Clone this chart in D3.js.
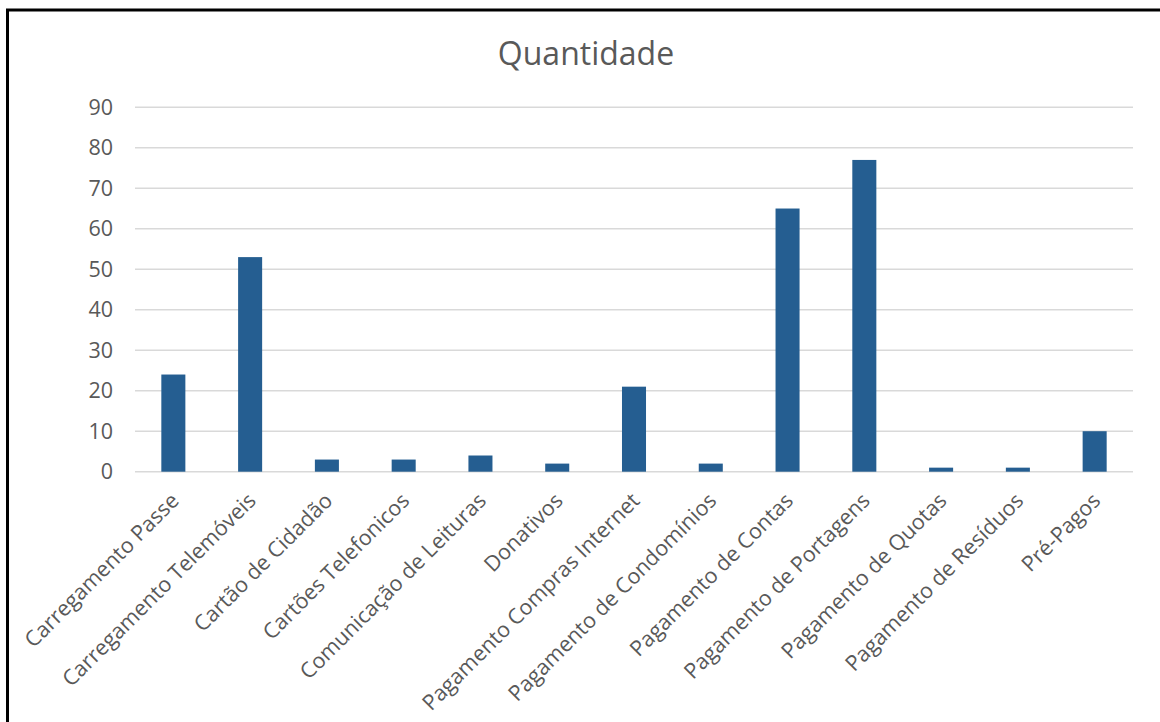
<!DOCTYPE html>
<meta charset="utf-8">
<style>
body { margin: 0; background: #fff; }
svg text { font-family: "Open Sans", Arial, sans-serif; fill: #595959; }
.grid line { stroke: #d9d9d9; stroke-width: 1.4px; }
</style>
<body>
<script src="https://d3js.org/d3.v7.min.js"></script>
<script>
// chart data
var categories = ["Carregamento Passe", "Carregamento Telemóveis", "Cartão de Cidadão",
  "Cartões Telefonicos", "Comunicação de Leituras", "Donativos", "Pagamento Compras Internet",
  "Pagamento de Condomínios", "Pagamento de Contas", "Pagamento de Portagens",
  "Pagamento de Quotas", "Pagamento de Resíduos", "Pré-Pagos"];
var values = [24, 53, 3, 3, 4, 2, 21, 2, 65, 77, 1, 1, 10];
var yTicks = [0, 10, 20, 30, 40, 50, 60, 70, 80, 90];
var title = "Quantidade";

var width = 1160, height = 722;
var plot = {left: 135, right: 1133, top: 107.3, bottom: 471.7};

var svg = d3.select("body").append("svg")
    .attr("width", width)
    .attr("height", height);

// border (only top and left visible in the picture)
svg.append("path")
    .attr("d", "M7.5," + height + "V10H" + width)
    .attr("fill", "none")
    .attr("stroke", "#000")
    .attr("stroke-width", 3);

var x = d3.scaleBand().domain(categories).range([plot.left, plot.right]).paddingInner(0.687).paddingOuter(0.343);
var y = d3.scaleLinear().domain([0, 90]).range([plot.bottom, plot.top]);

// gridlines + y labels
var grid = svg.append("g").attr("class", "grid");
grid.selectAll("line").data(yTicks).join("line")
    .attr("x1", plot.left).attr("x2", plot.right)
    .attr("y1", function(d) { return y(d); })
    .attr("y2", function(d) { return y(d); });

svg.append("g").selectAll("text").data(yTicks).join("text")
    .attr("x", 113)
    .attr("y", function(d) { return y(d); })
    .attr("dy", "0.35em")
    .attr("text-anchor", "end")
    .style("font-size", "21.5px")
    .text(function(d) { return d; });

// bars
svg.append("g").selectAll("rect").data(values).join("rect")
    .attr("x", function(d, i) { return x(categories[i]); })
    .attr("width", x.bandwidth())
    .attr("y", function(d) { return y(d); })
    .attr("height", function(d) { return y(0) - y(d); })
    .attr("fill", "#255e91");

// category labels, rotated -45
svg.append("g").selectAll("text").data(categories).join("text")
    .attr("transform", function(d) {
      var cx = x(d) + x.bandwidth() / 2 + 7;
      return "translate(" + cx + "," + 502 + ") rotate(-45)";
    })
    .attr("text-anchor", "end")
    .style("font-size", "21.5px")
    .text(function(d) { return d; });

// title
svg.append("text")
    .attr("x", 586)
    .attr("y", 65)
    .attr("text-anchor", "middle")
    .style("font-size", "32px")
    .text(title);
</script>
</body>
